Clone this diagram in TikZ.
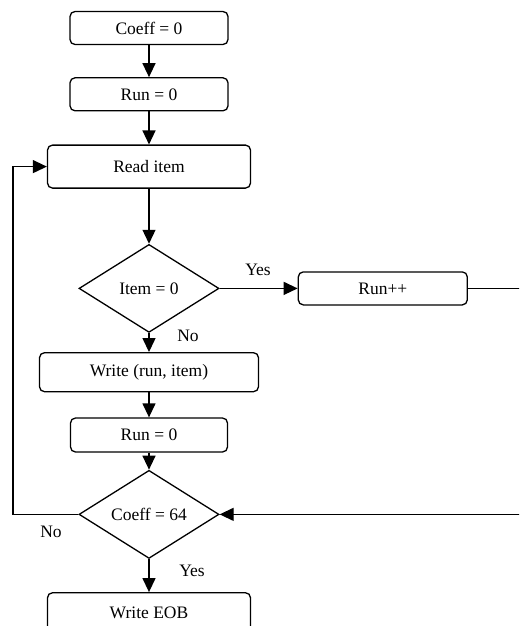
\documentclass[tikz,border=0pt]{standalone}
\usepackage{fontspec}
\setmainfont{Liberation Serif}
\usetikzlibrary{positioning,shapes.geometric,arrows.meta}

\tikzset{
  stepbox/.style={draw, rounded corners=5pt, line width=1.3pt, inner sep=0pt},
  test/.style={draw, diamond, line width=1.3pt, inner sep=0pt,
    minimum width=140pt, minimum height=88pt},
  arr/.style={line width=1.3pt, -{Triangle[length=14pt,width=13pt]}},
  lbl/.style={inner sep=0pt}
}

\begin{document}
\begin{tikzpicture}[x=1pt, y=1pt, font=\fontsize{17.5}{20}\selectfont]
\path[use as bounding box, clip] (0,0) rectangle (519,-626);

%% initialisation
\node[stepbox, minimum width=158pt, minimum height=33pt] at (149,-28) (coeff0){Coeff = 0};
\node[stepbox, minimum width=158pt, minimum height=33pt, below=32pt of coeff0](run0){Run = 0};
\node[stepbox, minimum width=203pt, minimum height=43pt, below=33pt of run0](read){Read item};

\draw[arr] (coeff0) -- (run0);
\draw[arr] (run0) -- (read);

% ITEM TEST
\node[test, below=55pt of read](item0){Item = 0};
\node[stepbox, minimum width=169pt, minimum height=33pt, right=78pt of item0](runinc){Run++};
\node[stepbox, minimum width=219pt, minimum height=39pt, below=19pt of item0](write){Write (run, item)};
\node[stepbox, minimum width=157pt, minimum height=34pt, below=25pt of write](run0b){Run = 0};

\draw[arr] (read) -- (item0);
\draw[arr] (item0) -- (runinc);
\draw[arr] (item0) -- (write);
\draw[arr] (write) -- (run0b);

\node[lbl] at (258,-270) (yes_item){Yes};
\node[lbl] at (188,-336) (no_item){No};

%% END TEST
\node[test, below=17pt of run0b](coeff64){Coeff = 64};
\node[stepbox, minimum width=203pt, minimum height=40pt, below=33pt of coeff64](eob){Write EOB};

\draw[arr] (run0b) -- (coeff64);
\draw[arr] (coeff64) -- (eob);

\coordinate (back) at (13,0);
\draw[arr] (coeff64.west) -- (coeff64.west -| back) |- (read.west);
\draw[arr] (runinc.east) -- ++(70,0) |- (coeff64.east);

\node[lbl] at (51,-532) (no_end){No};
\node[lbl] at (192,-571) (yes_end){Yes};

\end{tikzpicture}
\end{document}
